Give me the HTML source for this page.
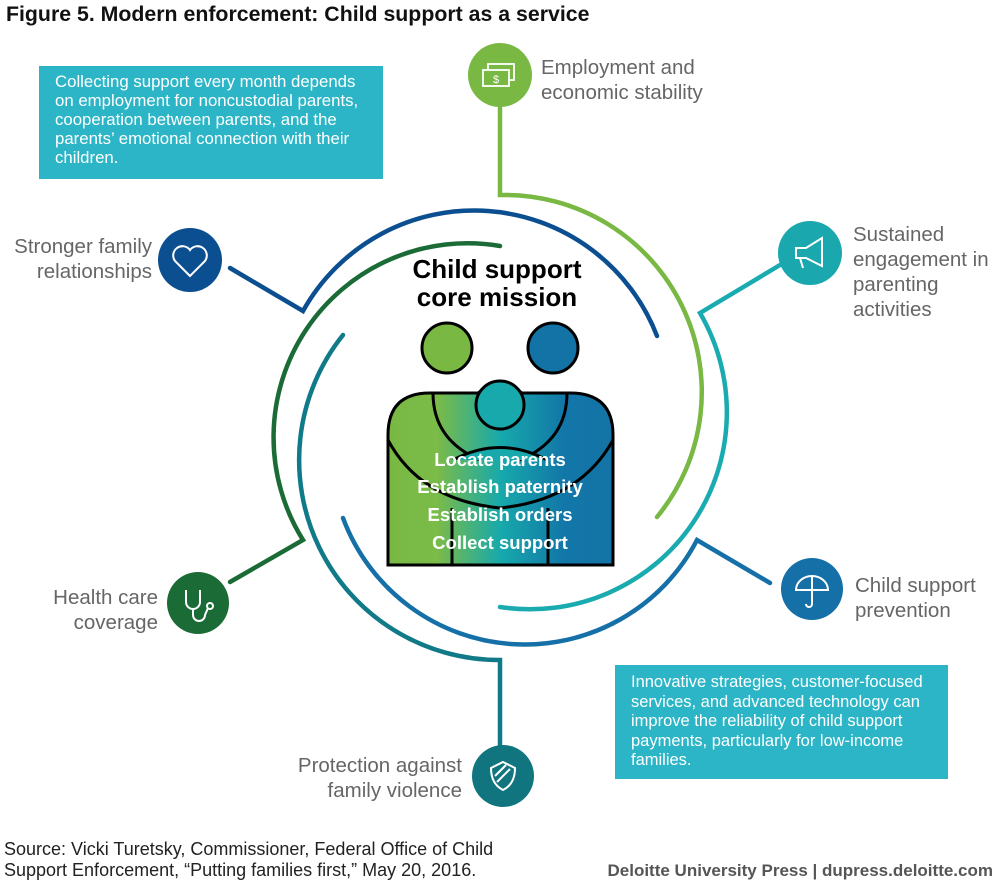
<!DOCTYPE html>
<html><head><meta charset="utf-8"><style>
html,body{margin:0;padding:0;background:#fff}
svg{display:block}
text{font-family:"Liberation Sans",sans-serif}
</style></head><body>
<svg width="1000" height="880" viewBox="0 0 1000 880" xmlns="http://www.w3.org/2000/svg">
<defs>
<linearGradient id="body" x1="387" y1="0" x2="614" y2="0" gradientUnits="userSpaceOnUse">
<stop offset="0" stop-color="#78b843"/><stop offset="0.22" stop-color="#7bbb48"/><stop offset="0.5" stop-color="#17a9ab"/><stop offset="0.78" stop-color="#1277a8"/><stop offset="1" stop-color="#1473a6"/>
</linearGradient>
</defs>
<text x="6" y="21" font-size="21.3" font-weight="bold" fill="#111">Figure 5. Modern enforcement: Child support as a service</text>

<rect x="39" y="66" width="344" height="113" fill="#2bb5c6"/>
<g font-size="16.8" fill="#fff">
<text x="55" y="87">Collecting support every month depends</text>
<text x="55" y="106">on employment for noncustodial parents,</text>
<text x="55" y="125">cooperation between parents, and the</text>
<text x="55" y="144">parents’ emotional connection with their</text>
<text x="55" y="163">children.</text>
</g>
<rect x="615" y="665" width="333" height="114" fill="#2bb5c6"/>
<g font-size="16.5" fill="#fff">
<text x="631" y="687">Innovative strategies, customer-focused</text>
<text x="631" y="707">services, and advanced technology can</text>
<text x="631" y="726">improve the reliability of child support</text>
<text x="631" y="746">payments, particularly for low-income</text>
<text x="631" y="765">families.</text>
</g>

<g fill="none" stroke-width="4.5" stroke-linecap="round" stroke-linejoin="miter">
<path d="M230 268 L303 311 A196 196 0 0 1 657 336" stroke="#0c4f91"/>
<path d="M500 108 L500 195 A197 197 0 0 1 657 517" stroke="#78b843"/>
<path d="M780 265 L700 313 A197 197 0 0 1 500 607" stroke="#1aabb0"/>
<path d="M770 583 L697 540 A194 194 0 0 1 343 518" stroke="#1670a8"/>
<path d="M500 246 A194 194 0 0 0 303 540 L230 582" stroke="#1b6b37"/>
<path d="M343 335 A200 200 0 0 0 500 660 L500 745" stroke="#117a88"/>
</g>

<circle cx="500" cy="75" r="32" fill="#78b843"/>
<g fill="none" stroke="#fff" stroke-width="1.8"><rect x="488" y="64" width="26" height="16"/><rect x="483" y="70" width="26" height="16" fill="#78b843"/></g>
<text x="496" y="83" font-size="11" fill="#fff" text-anchor="middle">$</text>
<circle cx="190" cy="260" r="32" fill="#0c4f91"/>
<path d="M190 276 L175 261 A8 8 0 0 1 190 250 A8 8 0 0 1 205 261 Z" fill="none" stroke="#fff" stroke-width="2"/>
<circle cx="810" cy="253" r="32" fill="#1aa8ae"/>
<path d="M796 248 L806 248 L822 238 L822 266 L806 258 L796 258 Z M800 258 L803 268" fill="none" stroke="#fff" stroke-width="2"/>
<circle cx="812" cy="589" r="31" fill="#1670a8"/>
<path d="M796 590 A16 14 0 0 1 828 590 Z M812 576 L812 604 A3 3 0 0 1 806 604" fill="none" stroke="#fff" stroke-width="2"/>
<circle cx="198" cy="603" r="31" fill="#1b6b37"/>
<path d="M186 590 L186 602 A7 7 0 0 0 200 602 L200 590 M193 609 L193 615 A6 6 0 0 0 205 615 L208 608" fill="none" stroke="#fff" stroke-width="2"/>
<circle cx="210" cy="606" r="3" fill="none" stroke="#fff" stroke-width="2"/>
<circle cx="503" cy="776" r="31" fill="#117580"/>
<path d="M503 762 L515 768 Q515 784 503 790 Q491 784 491 768 Z M497 782 L510 769 M495 776 L506 765" fill="none" stroke="#fff" stroke-width="2"/>

<g font-size="20.5" fill="#666">
<text x="541" y="74">Employment and</text>
<text x="541" y="99">economic stability</text>
<text x="152" y="253" text-anchor="end">Stronger family</text>
<text x="152" y="278" text-anchor="end">relationships</text>
<text x="853" y="241">Sustained</text>
<text x="853" y="266">engagement in</text>
<text x="853" y="291">parenting</text>
<text x="853" y="316">activities</text>
<text x="855" y="592">Child support</text>
<text x="855" y="617">prevention</text>
<text x="158" y="604" text-anchor="end">Health care</text>
<text x="158" y="629" text-anchor="end">coverage</text>
<text x="462" y="772" text-anchor="end">Protection against</text>
<text x="462" y="797" text-anchor="end">family violence</text>
</g>

<text x="497" y="278" font-size="26" font-weight="bold" fill="#000" text-anchor="middle">Child support</text>
<text x="497" y="306" font-size="26" font-weight="bold" fill="#000" text-anchor="middle">core mission</text>

<circle cx="447" cy="348" r="25" fill="#78b843" stroke="#000" stroke-width="3"/>
<circle cx="553" cy="348" r="25" fill="#1473a6" stroke="#000" stroke-width="3"/>
<path d="M388 565 L388 435 Q388 393 430 393 L478 393 Q500 376 522 393 L570 393 Q613 393 613 435 L613 565 Z" fill="url(#body)" stroke="#000" stroke-width="3"/>
<path d="M433 393 Q433 440 480 460 M567 393 Q567 440 520 460" fill="none" stroke="#000" stroke-width="3"/>
<path d="M388 440 Q420 500 500 508 Q580 500 613 440" fill="none" stroke="#000" stroke-width="3"/>
<path d="M452 508 L452 565 M548 508 L548 565" stroke="#000" stroke-width="3"/>
<path d="M453 460 Q500 435 547 460" fill="#17a9ab" stroke="#000" stroke-width="3"/>
<circle cx="500" cy="405" r="24" fill="#17a9ab" stroke="#000" stroke-width="3"/>
<g font-size="18.5" font-weight="bold" fill="#fff" text-anchor="middle">
<text x="500" y="466">Locate parents</text>
<text x="500" y="493">Establish paternity</text>
<text x="500" y="521">Establish orders</text>
<text x="500" y="549">Collect support</text>
</g>

<text x="4" y="855" font-size="18" fill="#222">Source: Vicki Turetsky, Commissioner, Federal Office of Child</text>
<text x="4" y="876" font-size="18" fill="#222">Support Enforcement, “Putting families first,” May 20, 2016.</text>
<text x="993" y="876" font-size="17" font-weight="bold" fill="#555" text-anchor="end">Deloitte University Press  |  dupress.deloitte.com</text>
</svg>
</body></html>
